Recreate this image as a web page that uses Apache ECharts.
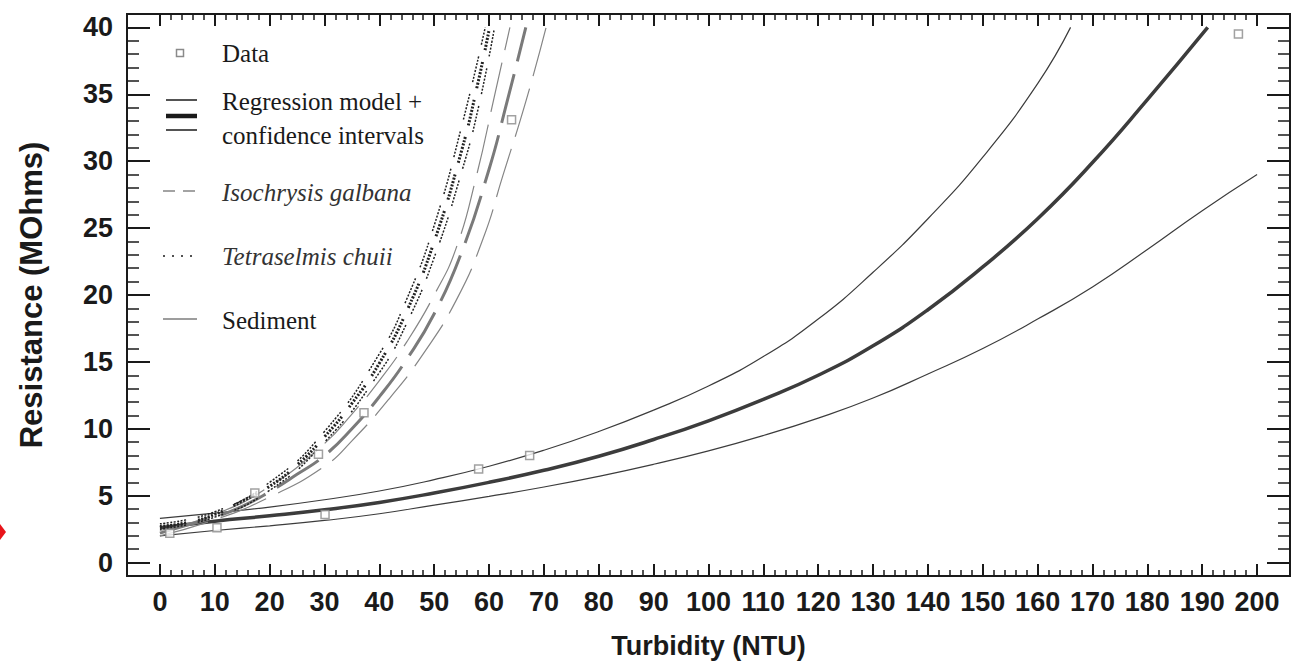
<!DOCTYPE html>
<html lang="en" style="height: 100%">
<head>
    <meta charset="utf-8">
</head>
<body style="height: 100%; margin: 0">
<div id="container" style="width: 1303px; height: 664px"></div>

<script type="text/javascript" src="https://fastly.jsdelivr.net/npm/echarts@6.0.0/dist/echarts.min.js"></script>
<script type="text/javascript">
    // ---- data ----
    const xMajor = [0, 10, 20, 30, 40, 50, 60, 70, 80, 90, 100, 110, 120, 130, 140, 150, 160, 170, 180, 190, 200];
    const yMajor = [0, 5, 10, 15, 20, 25, 30, 35, 40];

    // Sediment: regression model + confidence intervals
    const sedModelX = [0, 10, 20, 30, 40, 50, 60, 70, 80, 90, 100, 110, 120, 130, 140, 150, 160, 170, 180, 191];
    const sedModelY = [2.6, 3.1, 3.5, 3.95, 4.5, 5.2, 6.0, 6.9, 7.95, 9.2, 10.6, 12.2, 14.0, 16.2, 18.9, 22.1, 25.7, 29.9, 34.6, 40.0];
    const sedUpperX = [0, 10, 20, 30, 40, 50, 60, 70, 80, 90, 100, 110, 120, 130, 140, 150, 160, 166];
    const sedUpperY = [3.3, 3.7, 4.15, 4.7, 5.35, 6.2, 7.2, 8.4, 9.8, 11.4, 13.2, 15.4, 18.2, 21.7, 25.7, 30.3, 35.8, 40.0];
    const sedLowerX = [0, 10, 20, 30, 40, 50, 60, 70, 80, 90, 100, 110, 120, 130, 140, 150, 160, 170, 180, 190, 200];
    const sedLowerY = [2.0, 2.4, 2.75, 3.15, 3.65, 4.3, 4.95, 5.65, 6.45, 7.35, 8.35, 9.5, 10.8, 12.3, 14.1, 16.0, 18.2, 20.6, 23.4, 26.3, 29.0];

    // Isochrysis galbana
    const isoModelX = [0, 5, 10, 15, 20, 25, 30, 35, 40, 45, 50, 55, 60, 63, 66.7];
    const isoModelY = [2.2, 2.8, 3.4, 4.2, 5.3, 6.6, 8.0, 10.0, 12.4, 15.2, 18.6, 23.2, 29.4, 34.0, 40.0];
    const isoUpperX = [0, 10, 20, 30, 35, 40, 45, 50, 54, 57.7, 61, 63.8];
    const isoUpperY = [2.4, 3.6, 5.7, 8.9, 11.1, 13.6, 16.5, 20.0, 23.5, 28.9, 34.9, 40.0];
    const isoLowerX = [0, 10, 20, 30, 35, 41.9, 48, 54, 58.9, 62.5, 66.8, 70.4];
    const isoLowerY = [2.0, 3.2, 4.9, 7.2, 9.1, 12.3, 15.6, 19.6, 24.2, 28.9, 34.6, 40.0];

    // Tetraselmis chuii
    const tetModelX = [0, 5, 10, 15, 20, 25, 30, 35, 40, 45, 50, 55, 58, 60];
    const tetModelY = [2.7, 3.0, 3.6, 4.6, 5.7, 7.3, 9.4, 11.9, 14.9, 18.8, 24.0, 30.8, 35.9, 39.8];
    const tetUpperX = [0, 10, 20, 30, 40, 45, 50, 55, 59.3];
    const tetUpperY = [2.9, 3.8, 6.0, 9.8, 15.6, 19.7, 25.2, 32.6, 40.0];
    const tetLowerX = [0, 10, 20, 30, 40, 45, 50, 55, 58, 61];
    const tetLowerY = [2.5, 3.4, 5.4, 9.0, 14.2, 17.9, 22.8, 29.2, 33.9, 40.0];

    // measured points
    const dataX = [1.8, 10.4, 17.3, 28.9, 30.1, 37.2, 58.1, 64.1, 67.4, 196.6];
    const dataY = [2.2, 2.6, 5.2, 8.1, 3.6, 11.2, 7.0, 33.1, 8.0, 39.5];

    // ---- chart ----
    const zip = (xs, ys) => xs.map((x, i) => [x, ys[i]]);
    const sans = "'Liberation Sans', Arial, sans-serif";
    const serif = "'Liberation Serif', 'Times New Roman', serif";
    const ink = '#1a1a1a';
    const xMinor = [];
    for (let v = 2; v < 200; v += 2) if (v % 10 !== 0) xMinor.push(v);
    const yMinor = [];
    for (let v = 1; v < 40; v++) if (v % 5 !== 0) yMinor.push(v);

    // dotted bursts separated by a gap
    const dotBurst = [2, 1.5, 2, 1.5, 2, 1.5, 2, 1.5, 2, 1.5, 2, 1.5, 2, 1.5, 2, 12];

    function xAxisOf(pos, ticks, len, width, labels) {
        return {
            type: 'value', position: pos, min: -6, max: 206,
            axisLine: {show: true, onZero: false, lineStyle: {color: ink, width: 2}},
            axisTick: {show: true, inside: true, length: len, customValues: ticks, lineStyle: {color: ink, width: width}},
            axisLabel: labels ? {
                customValues: ticks, margin: 12, color: ink,
                fontSize: 27, fontWeight: 'bold', fontFamily: sans
            } : {show: false},
            splitLine: {show: false}
        };
    }
    function yAxisOf(pos, ticks, len, width, labels) {
        return {
            type: 'value', position: pos, min: -1, max: 41,
            axisLine: {show: true, onZero: false, lineStyle: {color: ink, width: 2}},
            axisTick: {show: true, inside: true, length: len, customValues: ticks, lineStyle: {color: ink, width: width}},
            axisLabel: labels ? {
                customValues: ticks, margin: 14, color: ink,
                fontSize: 27, fontWeight: 'bold', fontFamily: sans
            } : {show: false},
            splitLine: {show: false}
        };
    }

    const xBottom = xAxisOf('bottom', xMajor, 12, 2, true);
    xBottom.name = 'Turbidity (NTU)';
    xBottom.nameLocation = 'middle';
    xBottom.nameGap = 56;
    xBottom.nameTextStyle = {fontSize: 27, fontWeight: 'bold', fontFamily: sans, color: ink};
    const yLeft = yAxisOf('left', yMajor, 23, 2, true);
    yLeft.name = 'Resistance (MOhms)';
    yLeft.nameLocation = 'middle';
    yLeft.nameGap = 80;
    yLeft.nameTextStyle = {fontSize: 31, fontWeight: 'bold', fontFamily: sans, color: ink};

    function curve(xs, ys, color, width, dash) {
        return {
            type: 'line', data: zip(xs, ys), showSymbol: false, smooth: 0.5,
            xAxisIndex: 0, yAxisIndex: 0, animation: false, silent: true,
            lineStyle: {color: color, width: width, type: dash || 'solid'}
        };
    }

    const sedColor = '#3c3c3c';
    const isoColor = '#858585';
    const tetColor = '#222';

    var dom = document.getElementById('container');
    var myChart = echarts.init(dom, null, {renderer: 'svg'});
    var option = {
        backgroundColor: '#fff',
        animation: false,
        grid: {left: 127, right: 13, top: 14, bottom: 84},
        xAxis: [
            xBottom,
            xAxisOf('bottom', xMinor, 6, 1.5, false),
            xAxisOf('top', xMajor, 12, 2, false),
            xAxisOf('top', xMinor, 6, 1.5, false)
        ],
        yAxis: [
            yLeft,
            yAxisOf('left', yMinor, 12, 1.5, false),
            yAxisOf('right', yMajor, 23, 2, false),
            yAxisOf('right', yMinor, 12, 1.5, false)
        ],
        series: [
            curve(sedUpperX, sedUpperY, sedColor, 1.2),
            curve(sedLowerX, sedLowerY, sedColor, 1.2),
            curve(sedModelX, sedModelY, sedColor, 3.5),
            curve(isoUpperX, isoUpperY, isoColor, 1.2, [50, 13]),
            curve(isoLowerX, isoLowerY, isoColor, 1.2, [50, 13]),
            curve(isoModelX, isoModelY, '#7a7a7a', 3, [50, 13]),
            curve(tetUpperX, tetUpperY, tetColor, 1.5, dotBurst),
            curve(tetLowerX, tetLowerY, tetColor, 1.5, dotBurst),
            curve(tetModelX, tetModelY, tetColor, 3, dotBurst),
            {
                type: 'scatter', data: zip(dataX, dataY), symbol: 'rect', symbolSize: 8,
                silent: true, z: 5,
                itemStyle: {color: '#fff', borderColor: '#8a8a8a', borderWidth: 1.5}
            }
        ],
        graphic: [
            // legend
            {type: 'rect', shape: {x: 176.5, y: 49.5, width: 7, height: 7}, style: {fill: '#fff', stroke: '#8a8a8a', lineWidth: 1.5}},
            {type: 'text', x: 222, y: 53, style: {text: 'Data', font: '25px ' + serif, fill: ink, verticalAlign: 'middle'}},
            {type: 'line', shape: {x1: 166, y1: 100, x2: 197, y2: 100}, style: {stroke: ink, lineWidth: 1.5}},
            {type: 'line', shape: {x1: 166, y1: 116, x2: 197, y2: 116}, style: {stroke: ink, lineWidth: 4.5}},
            {type: 'line', shape: {x1: 166, y1: 130, x2: 197, y2: 130}, style: {stroke: ink, lineWidth: 1.5}},
            {type: 'text', x: 222, y: 101, style: {text: 'Regression model +', font: '25px ' + serif, fill: ink, verticalAlign: 'middle'}},
            {type: 'text', x: 222, y: 135, style: {text: 'confidence intervals', font: '25px ' + serif, fill: ink, verticalAlign: 'middle'}},
            {type: 'line', shape: {x1: 163, y1: 191, x2: 197, y2: 191}, style: {stroke: isoColor, lineWidth: 1.5, lineDash: [12, 8]}},
            {type: 'text', x: 222, y: 192, style: {text: 'Isochrysis galbana', font: 'italic 25px ' + serif, fill: '#333', verticalAlign: 'middle'}},
            {type: 'line', shape: {x1: 163, y1: 256, x2: 197, y2: 256}, style: {stroke: ink, lineWidth: 1.5, lineDash: [2, 7]}},
            {type: 'text', x: 222, y: 256, style: {text: 'Tetraselmis chuii', font: 'italic 25px ' + serif, fill: '#333', verticalAlign: 'middle'}},
            {type: 'line', shape: {x1: 163, y1: 319, x2: 197, y2: 319}, style: {stroke: sedColor, lineWidth: 1.2}},
            {type: 'text', x: 222, y: 320, style: {text: 'Sediment', font: '25px ' + serif, fill: ink, verticalAlign: 'middle'}},
            // red marker at the left edge
            {type: 'polygon', shape: {points: [[0, 524], [6, 532], [0, 540]]}, style: {fill: '#e8141a'}}
        ]
    };

    myChart.setOption(option);
    window.addEventListener('resize', myChart.resize);
</script>
</body>
</html>
